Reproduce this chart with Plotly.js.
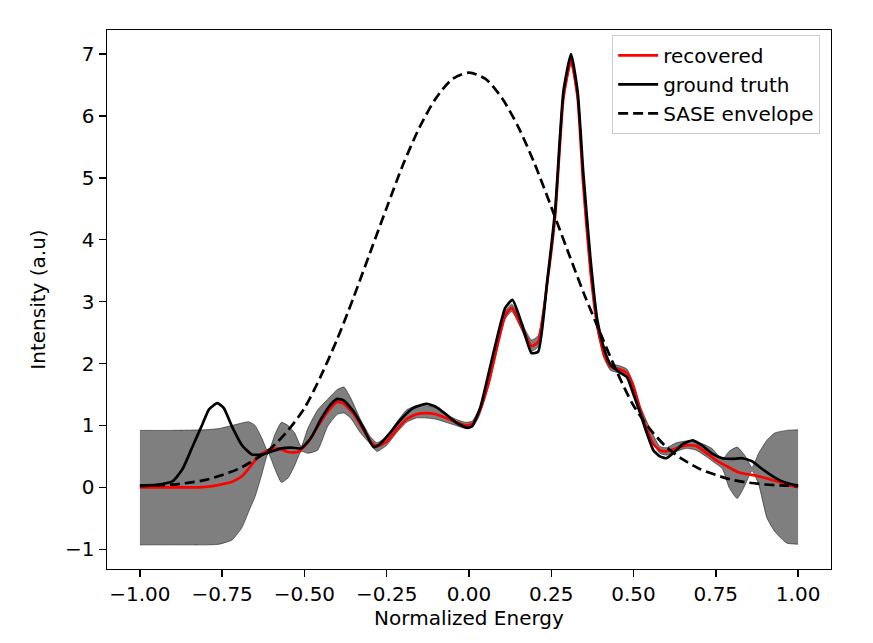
<!DOCTYPE html>
<html>
<head>
<meta charset="utf-8">
<script src="https://cdn.plot.ly/plotly-3.0.1.min.js"></script>
<style>html,body{margin:0;padding:0;background:#fff;}#chart{width:873px;height:643px;}</style>
</head>
<body>
<div id="chart"></div>
<script>
// SASE envelope
const envX = [-1.00,-0.95,-0.90,-0.85,-0.80,-0.75,-0.70,-0.65,-0.60,-0.55,-0.50,-0.45,-0.40,-0.35,-0.30,-0.25,-0.20,-0.15,-0.10,-0.05,0.00,
              0.05,0.10,0.15,0.20,0.25,0.30,0.35,0.40,0.45,0.50,0.55,0.60,0.65,0.70,0.75,0.80,0.85,0.90,0.95,1.00];
const envY = [0.02,0.03,0.045,0.075,0.12,0.20,0.30,0.45,0.64,0.92,1.28,1.80,2.40,3.08,3.80,4.52,5.22,5.82,6.29,6.60,6.70,
              6.60,6.29,5.82,5.22,4.53,3.82,3.12,2.48,1.86,1.32,0.94,0.65,0.45,0.30,0.20,0.12,0.075,0.045,0.03,0.02];

// ground truth
const truthX = [-1.00,-0.95,-0.90,-0.87,-0.84,-0.81,-0.79,-0.765,-0.745,-0.72,-0.69,-0.66,-0.63,-0.60,-0.57,-0.54,-0.51,-0.48,-0.45,-0.42,-0.40,-0.38,-0.35,-0.32,-0.29,-0.27,-0.24,-0.21,-0.17,-0.13,-0.10,-0.07,-0.04,-0.005,0.01,0.035,0.06,0.086,0.11,0.132,0.16,0.19,0.21,0.238,0.262,0.287,0.31,0.33,0.347,0.369,0.39,0.41,0.43,0.46,0.48,0.50,0.52,0.54,0.56,0.58,0.60,0.62,0.65,0.68,0.71,0.74,0.77,0.80,0.83,0.86,0.89,0.92,0.95,0.98,1.00];
const truthY = [0.03,0.04,0.10,0.30,0.66,1.02,1.26,1.36,1.28,0.98,0.68,0.53,0.53,0.58,0.63,0.64,0.63,0.80,1.10,1.34,1.43,1.40,1.22,0.95,0.65,0.70,0.88,1.08,1.28,1.35,1.30,1.18,1.05,0.96,0.99,1.30,1.85,2.43,2.90,3.03,2.65,2.17,2.19,3.35,4.50,6.40,7.00,6.40,5.10,3.70,2.70,2.25,1.98,1.85,1.78,1.50,1.20,0.88,0.60,0.50,0.47,0.55,0.70,0.76,0.67,0.54,0.47,0.46,0.47,0.42,0.30,0.19,0.10,0.05,0.03];

// recovered
const recX = [-1.00,-0.90,-0.82,-0.78,-0.75,-0.72,-0.69,-0.67,-0.64,-0.61,-0.58,-0.55,-0.52,-0.49,-0.46,-0.43,-0.40,-0.38,-0.35,-0.32,-0.30,-0.28,-0.25,-0.22,-0.19,-0.16,-0.13,-0.10,-0.07,-0.04,-0.01,0.01,0.03,0.06,0.09,0.11,0.13,0.16,0.19,0.21,0.24,0.262,0.287,0.31,0.33,0.347,0.369,0.39,0.41,0.43,0.46,0.48,0.50,0.52,0.54,0.56,0.58,0.60,0.63,0.66,0.69,0.72,0.75,0.78,0.82,0.86,0.90,0.94,0.97,1.00];
const recY = [0.00,0.00,0.00,0.02,0.05,0.09,0.18,0.30,0.50,0.60,0.63,0.57,0.57,0.72,0.98,1.22,1.38,1.35,1.18,0.92,0.75,0.66,0.74,0.93,1.10,1.18,1.20,1.18,1.12,1.05,1.00,1.02,1.20,1.70,2.38,2.78,2.90,2.60,2.28,2.35,3.40,4.40,6.30,6.90,6.30,4.90,3.50,2.60,2.15,1.95,1.90,1.85,1.62,1.26,0.95,0.70,0.60,0.58,0.63,0.68,0.67,0.56,0.44,0.35,0.24,0.20,0.15,0.09,0.04,0.00];

// uncertainty band
const bandX = [-1.00,-0.90,-0.80,-0.76,-0.72,-0.69,-0.67,-0.65,-0.63,-0.61,-0.59,-0.57,-0.55,-0.53,-0.51,-0.49,-0.46,-0.43,-0.40,-0.38,-0.36,-0.33,-0.30,-0.28,-0.25,-0.22,-0.19,-0.16,-0.13,-0.10,-0.07,-0.04,-0.01,
               0.01,0.03,0.06,0.09,0.11,0.13,0.16,0.19,0.21,0.24,0.262,0.287,0.31,0.33,0.347,0.369,0.39,0.41,0.43,0.46,0.48,0.50,0.52,
               0.55,0.58,0.60,0.63,0.66,0.69,0.72,0.74,0.77,0.79,0.815,0.84,0.86,0.88,0.905,0.93,0.965,1.00];
const bandLower = [-0.93,-0.93,-0.93,-0.92,-0.85,-0.65,-0.40,-0.15,0.20,0.55,0.30,0.08,0.15,0.35,0.58,0.55,0.60,0.98,1.18,1.20,1.12,0.88,0.70,0.58,0.68,0.88,1.05,1.12,1.12,1.10,1.05,1.00,0.95,
                   0.97,1.14,1.64,2.32,2.72,2.84,2.54,2.20,2.27,3.34,4.34,6.24,6.84,6.24,4.84,3.44,2.54,2.09,1.89,1.84,1.79,1.56,1.20,
                   0.80,0.55,0.52,0.58,0.63,0.60,0.50,0.42,0.30,0.00,-0.18,0.05,0.27,0.05,-0.49,-0.72,-0.90,-0.92];
const bandUpper = [0.92,0.92,0.93,0.95,1.00,1.04,1.06,1.00,0.80,0.57,0.85,1.05,1.00,0.88,0.66,0.95,1.25,1.42,1.58,1.62,1.45,1.10,0.82,0.72,0.82,1.05,1.25,1.32,1.32,1.28,1.18,1.10,1.05,
                   1.07,1.26,1.76,2.44,2.84,2.96,2.66,2.38,2.45,3.46,4.46,6.36,6.96,6.36,4.96,3.56,2.66,2.21,2.01,1.96,1.91,1.68,1.32,
                   0.95,0.66,0.64,0.72,0.75,0.74,0.68,0.62,0.45,0.58,0.65,0.50,0.32,0.55,0.76,0.88,0.92,0.93];

const bandColor = 'rgba(0,0,0,0.5)';
const traces = [
  {x: bandX, y: bandLower, type: 'scatter', mode: 'lines', line: {color: bandColor, width: 1, shape: 'spline', smoothing: 0.5}, showlegend: false, hoverinfo: 'skip'},
  {x: bandX, y: bandUpper, type: 'scatter', mode: 'lines', fill: 'tonexty', fillcolor: bandColor, line: {color: bandColor, width: 1, shape: 'spline', smoothing: 0.5}, showlegend: false, hoverinfo: 'skip'},
  {x: recX, y: recY, type: 'scatter', mode: 'lines', name: 'recovered', line: {color: '#ff0000', width: 2.7, shape: 'spline', smoothing: 0.5}},
  {x: truthX, y: truthY, type: 'scatter', mode: 'lines', name: 'ground truth', line: {color: '#000000', width: 2.7, shape: 'spline', smoothing: 0.5}},
  {x: envX, y: envY, type: 'scatter', mode: 'lines', name: 'SASE envelope', line: {color: '#000000', width: 2.7, dash: '10px,5px', shape: 'spline', smoothing: 0.8}}
];

const font = {family: 'DejaVu Sans, sans-serif', size: 20, color: '#000'};
const layout = {
  width: 873, height: 643,
  margin: {l: 107, r: 42, t: 30, b: 74},
  paper_bgcolor: '#fff', plot_bgcolor: '#fff',
  font: font,
  showlegend: true,
  legend: {x: 0.985, y: 0.991, xanchor: 'right', yanchor: 'top', traceorder: 'normal', itemwidth: 40, bgcolor: 'rgba(255,255,255,0.85)', bordercolor: '#cccccc', borderwidth: 1, font: {family: 'DejaVu Sans, sans-serif', size: 20, color: '#000'}},
  xaxis: {
    range: [-1.1, 1.1], tickmode: 'linear', tick0: -1, dtick: 0.25, tickformat: '.2f',
    showgrid: false, zeroline: false, showline: true, mirror: true, linecolor: '#000', linewidth: 1.4,
    ticks: 'outside', ticklen: 7, tickwidth: 1.4, tickcolor: '#000', tickfont: font,
    title: {text: 'Normalized Energy', font: font, standoff: 5}
  },
  yaxis: {
    range: [-1.32, 7.39], tickmode: 'linear', tick0: 0, dtick: 1,
    showgrid: false, zeroline: false, showline: true, mirror: true, linecolor: '#000', linewidth: 1.4,
    ticks: 'outside', ticklen: 7, tickwidth: 1.4, tickcolor: '#000', tickfont: font,
    title: {text: 'Intensity (a.u)', font: font, standoff: 14}
  }
};
Plotly.newPlot('chart', traces, layout, {displayModeBar: false, staticPlot: true});
</script>
</body>
</html>
